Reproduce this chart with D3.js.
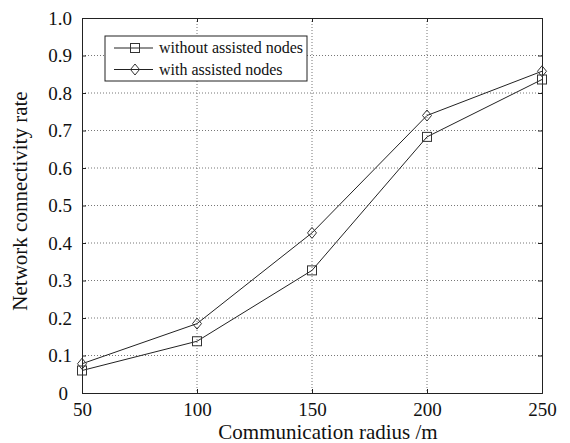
<!DOCTYPE html>
<html>
<head>
<meta charset="utf-8">
<script src="https://cdn.jsdelivr.net/npm/d3@7"></script>
<style>
    body { margin: 0; background: #fff; }
    svg { display: block; font-family: "Liberation Serif", "Times New Roman", serif; }
</style>
</head>
<body>
<svg id="chart" width="570" height="443"></svg>
<script>
const radius = [50, 100, 150, 200, 250];
const withoutAssisted = [0.060, 0.138, 0.327, 0.683, 0.836];
const withAssisted = [0.078, 0.185, 0.427, 0.740, 0.858];
const xTicks = [50, 100, 150, 200, 250];
const yTicks = [0, 0.1, 0.2, 0.3, 0.4, 0.5, 0.6, 0.7, 0.8, 0.9, 1.0];
const seriesNames = ['without assisted nodes', 'with assisted nodes'];

const margin = {top: 18, right: 28, bottom: 50, left: 82};
const width = 570 - margin.left - margin.right;
const height = 443 - margin.top - margin.bottom;

const svg = d3.select('#chart');
const g = svg.append('g').attr('transform', `translate(${margin.left},${margin.top})`);

const x = d3.scaleLinear().domain([50, 250]).range([0, width]);
const y = d3.scaleLinear().domain([0, 1]).range([height, 0]);

// grid
g.append('g')
    .selectAll('line')
    .data(xTicks.slice(1, -1))
    .join('line')
    .attr('x1', d => x(d)).attr('x2', d => x(d))
    .attr('y1', 0).attr('y2', height)
    .attr('stroke', '#777')
    .attr('stroke-dasharray', '1,2');
g.append('g')
    .selectAll('line')
    .data(yTicks.slice(1, -1))
    .join('line')
    .attr('x1', 0).attr('x2', width)
    .attr('y1', d => y(d)).attr('y2', d => y(d))
    .attr('stroke', '#777')
    .attr('stroke-dasharray', '1,2');

// axes, ticks inside
const fmtY = d => d === 0 ? '0' : d3.format('.1f')(d);
const xAxis = g.append('g')
    .attr('transform', `translate(0,${height})`)
    .call(d3.axisBottom(x).tickValues(xTicks).tickSize(-4).tickPadding(10));
const yAxis = g.append('g')
    .call(d3.axisLeft(y).tickValues(yTicks).tickFormat(fmtY).tickSize(-4).tickPadding(10));
g.append('g')
    .attr('transform', `translate(${width},0)`)
    .call(d3.axisRight(y).tickValues(yTicks).tickFormat('').tickSize(-4));
g.append('g')
    .call(d3.axisTop(x).tickValues(xTicks).tickFormat('').tickSize(-4));

g.selectAll('.domain').attr('stroke', '#222');
g.selectAll('.tick line').attr('stroke', '#222');
g.selectAll('.tick text')
    .attr('font-size', 19)
    .attr('fill', '#111')
    .attr('font-family', '"Liberation Serif", serif');
// the "0" label sits a bit further left like the original
yAxis.selectAll('.tick')
    .filter(d => d === 0)
    .select('text')
    .attr('dx', -4);

// axis titles
svg.append('text')
    .attr('x', 328)
    .attr('y', 439)
    .attr('text-anchor', 'middle')
    .attr('font-size', 21)
    .attr('fill', '#111')
    .text('Communication radius /m');
svg.append('text')
    .attr('transform', 'translate(27,201) rotate(-90)')
    .attr('text-anchor', 'middle')
    .attr('font-size', 21)
    .attr('fill', '#111')
    .text('Network connectivity rate');

// lines
const line = d3.line()
    .x((d, i) => x(radius[i]))
    .y(d => y(d));

const series = [withoutAssisted, withAssisted];
const markerSquare = (sel) => sel.append('rect')
    .attr('x', -4.5).attr('y', -4.5)
    .attr('width', 9).attr('height', 9)
    .attr('fill', 'none')
    .attr('stroke', '#333')
    .attr('stroke-width', 1);
const markerDiamond = (sel) => sel.append('path')
    .attr('d', 'M0,-5.5L4.5,0L0,5.5L-4.5,0Z')
    .attr('fill', 'none')
    .attr('stroke', '#333')
    .attr('stroke-width', 1);
const markers = [markerSquare, markerDiamond];

series.forEach((vals, k) => {
    g.append('path')
        .datum(vals)
        .attr('fill', 'none')
        .attr('stroke', '#222')
        .attr('stroke-width', 1)
        .attr('d', line);
    g.append('g')
        .selectAll('g')
        .data(vals)
        .join('g')
        .attr('transform', (d, i) => `translate(${x(radius[i])},${y(d)})`)
        .call(markers[k]);
});

// legend
const legend = svg.append('g').attr('transform', 'translate(105,36)');
legend.append('rect')
    .attr('width', 202).attr('height', 45)
    .attr('fill', '#fff')
    .attr('stroke', '#222')
    .attr('stroke-width', 1);
seriesNames.forEach((name, k) => {
    const row = legend.append('g').attr('transform', `translate(0,${12 + k * 21.5})`);
    row.append('line')
        .attr('x1', 9).attr('x2', 48)
        .attr('stroke', '#222');
    row.append('g').attr('transform', 'translate(30,0)').call(markers[k]);
    row.append('text')
        .attr('x', 54)
        .attr('dy', '0.33em')
        .attr('font-size', 16)
        .attr('fill', '#111')
        .text(name);
});
</script>
</body>
</html>
